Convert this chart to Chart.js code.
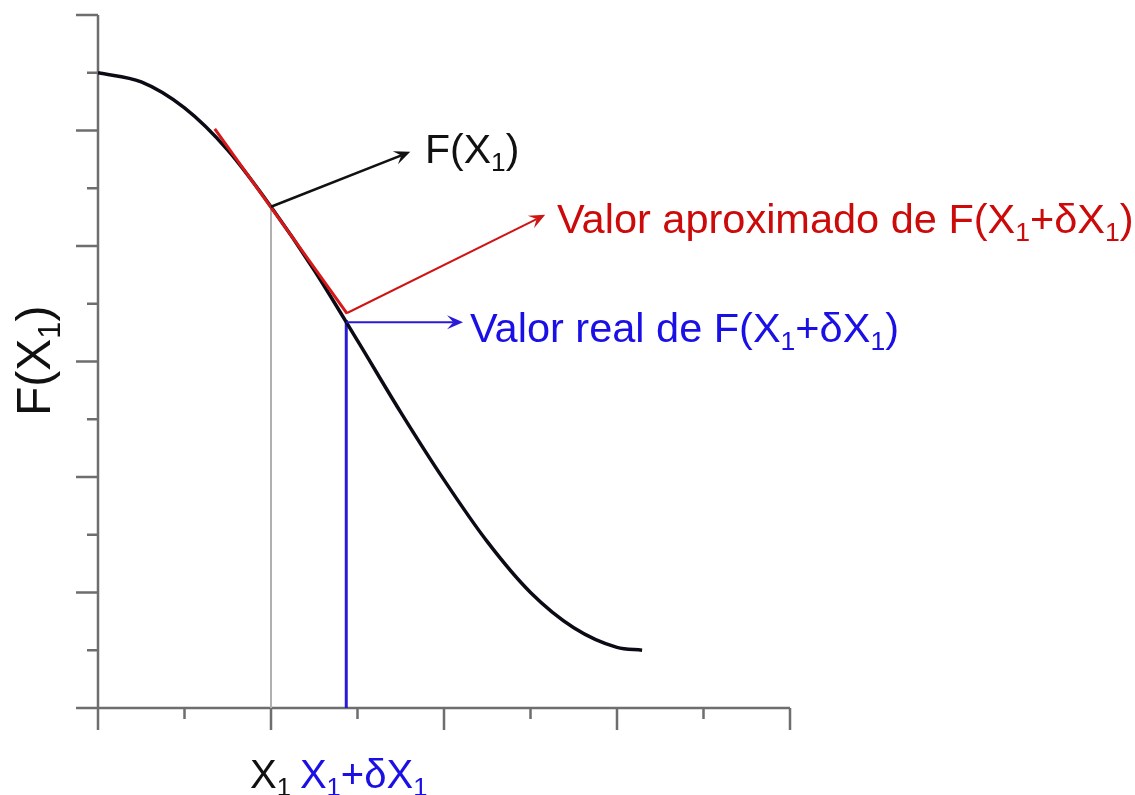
<!DOCTYPE html>
<html>
<head>
<meta charset="utf-8">
<script src="https://cdn.jsdelivr.net/npm/chart.js@4/dist/chart.umd.min.js"></script>
<style>
  body { margin: 0; background: #fff; }
  canvas { display: block; }
</style>
</head>
<body>
<canvas id="myChart" width="1135" height="795"></canvas>
<script>
// the function F(X), read point by point
let curveX = [0, 0.5, 1, 1.5, 2, 2.5, 3, 3.5, 4, 4.5, 5, 5.5, 6, 6.29];
let curveY = [11, 10.84, 10.39, 9.66, 8.68, 7.58, 6.36, 5.12, 3.95, 2.88, 2.0, 1.39, 1.05, 1.0];

// tangent at X1 (linear approximation)
let tangentX = [1.35, 2.88];
let tangentY = [10.03, 6.83];

// X1 and X1 + dX1 with their F values
let x1 = 2, fx1 = 8.68;
let x2 = 2.87, fx2 = 6.72;

// tick positions (no labels drawn)
let xTicks = [0, 1, 2, 3, 4, 5, 6, 7, 8];
let yTicks = [0, 1, 2, 3, 4, 5, 6, 7, 8, 9, 10, 11, 12];

// arrows: [fromX, fromY, toX, toY]
let arrowBlack = [x1, fx1, 3.61, 9.63];
let arrowRed = [2.88, 6.84, 5.17, 8.54];
let arrowBlue = [x2, 6.68, 4.22, 6.68];

const FONT = '"Liberation Sans", Arial, sans-serif';

function pts(xs, ys) {
  return xs.map((x, i) => ({ x: x, y: ys[i] }));
}

// text with subscripts: parts = [[text, isSub], ...]
function richText(ctx, x, y, parts, size, color) {
  ctx.fillStyle = color;
  ctx.textBaseline = 'alphabetic';
  ctx.textAlign = 'left';
  let cx = x;
  parts.forEach(p => {
    let s = p[1] ? size * 0.64 : size;
    ctx.font = s + 'px ' + FONT;
    ctx.fillText(p[0], cx, p[1] ? y + size * 0.2 : y);
    cx += ctx.measureText(p[0]).width;
  });
  return cx;
}

function arrow(ctx, sx, sy, a, color, width) {
  let x0 = sx.getPixelForValue(a[0]), y0 = sy.getPixelForValue(a[1]);
  let x1p = sx.getPixelForValue(a[2]), y1p = sy.getPixelForValue(a[3]);
  let ang = Math.atan2(y1p - y0, x1p - x0);
  let len = 16, half = 7;
  ctx.save();
  ctx.strokeStyle = color;
  ctx.fillStyle = color;
  ctx.lineWidth = width;
  ctx.beginPath();
  ctx.moveTo(x0, y0);
  ctx.lineTo(x1p - Math.cos(ang) * len * 0.6, y1p - Math.sin(ang) * len * 0.6);
  ctx.stroke();
  ctx.beginPath();
  ctx.moveTo(x1p, y1p);
  ctx.lineTo(x1p - Math.cos(ang) * len + Math.sin(ang) * half, y1p - Math.sin(ang) * len - Math.cos(ang) * half);
  ctx.lineTo(x1p - Math.cos(ang) * len * 0.6, y1p - Math.sin(ang) * len * 0.6);
  ctx.lineTo(x1p - Math.cos(ang) * len - Math.sin(ang) * half, y1p - Math.sin(ang) * len + Math.cos(ang) * half);
  ctx.closePath();
  ctx.fill();
  ctx.restore();
}

// axes with alternating long / short ticks
const axesPlugin = {
  id: 'axesPlugin',
  beforeDatasetsDraw(chart) {
    let ctx = chart.ctx, sx = chart.scales.x, sy = chart.scales.y;
    let left = sx.getPixelForValue(0), bottom = sy.getPixelForValue(0);
    ctx.save();
    ctx.strokeStyle = '#6e6e6e';
    ctx.lineWidth = 2.5;
    ctx.beginPath();
    ctx.moveTo(left, sy.getPixelForValue(12));
    ctx.lineTo(left, bottom);
    ctx.lineTo(sx.getPixelForValue(8), bottom);
    yTicks.forEach((v, i) => {
      let y = sy.getPixelForValue(v);
      ctx.moveTo(left, y);
      ctx.lineTo(left - (i % 2 === 0 ? 22 : 11), y);
    });
    xTicks.forEach((v, i) => {
      let x = sx.getPixelForValue(v);
      ctx.moveTo(x, bottom);
      ctx.lineTo(x, bottom + (i % 2 === 0 ? 22 : 11));
    });
    ctx.stroke();
    ctx.restore();
  },
  afterDatasetsDraw(chart) {
    let ctx = chart.ctx, sx = chart.scales.x, sy = chart.scales.y;
    arrow(ctx, sx, sy, arrowBlack, '#111111', 2.5);
    arrow(ctx, sx, sy, arrowRed, '#d01414', 2);
    arrow(ctx, sx, sy, arrowBlue, '#2a1ad8', 2);

    ctx.save();
    richText(ctx, 425, 163, [['F(X', 0], ['1', 1], [')', 0]], 41, '#111111');
    richText(ctx, 557, 233, [['Valor aproximado de F(X', 0], ['1', 1], ['+\u03b4X', 0], ['1', 1], [')', 0]], 41.5, '#cc0a0a');
    richText(ctx, 470, 342, [['Valor real de F(X', 0], ['1', 1], ['+\u03b4X', 0], ['1', 1], [')', 0]], 41.5, '#1a10e6');

    // x labels under X1 and X1 + dX1
    let end = richText(ctx, 250, 788, [['X', 0], ['1', 1]], 40, '#111111');
    richText(ctx, end + 9, 788, [['X', 0], ['1', 1], ['+\u03b4X', 0], ['1', 1]], 40, '#1a10e6');

    // y title
    ctx.translate(50, 416);
    ctx.rotate(-Math.PI / 2);
    richText(ctx, 0, 0, [['F(X', 0], ['1', 1], [')', 0]], 48, '#111111');
    ctx.restore();
  }
};

let myChart = document.getElementById('myChart').getContext('2d');

let chart = new Chart(myChart, {
  type: 'scatter',
  data: {
    datasets: [
      {
        data: pts(tangentX, tangentY),
        showLine: true,
        borderColor: '#d81818',
        borderWidth: 3,
        pointRadius: 0,
        order: 1
      },
      {
        data: pts(curveX, curveY),
        showLine: true,
        borderColor: '#0b0b16',
        borderWidth: 3.5,
        pointRadius: 0,
        cubicInterpolationMode: 'monotone',
        order: 2
      },
      {
        data: [{ x: x2, y: 0 }, { x: x2, y: fx2 }],
        showLine: true,
        borderColor: '#2a1ad8',
        borderWidth: 3,
        pointRadius: 0,
        order: 3
      },
      {
        data: [{ x: x1, y: 0 }, { x: x1, y: fx1 }],
        showLine: true,
        borderColor: '#b0b0b0',
        borderWidth: 2,
        pointRadius: 0,
        order: 4
      }
    ]
  },
  options: {
    responsive: false,
    animation: false,
    events: [],
    layout: { padding: { left: 98, right: 345, top: 15, bottom: 87 } },
    plugins: { legend: { display: false }, tooltip: { enabled: false } },
    scales: {
      x: { type: 'linear', min: 0, max: 8, display: false },
      y: { type: 'linear', min: 0, max: 12, display: false }
    }
  },
  plugins: [axesPlugin]
});
</script>
</body>
</html>
